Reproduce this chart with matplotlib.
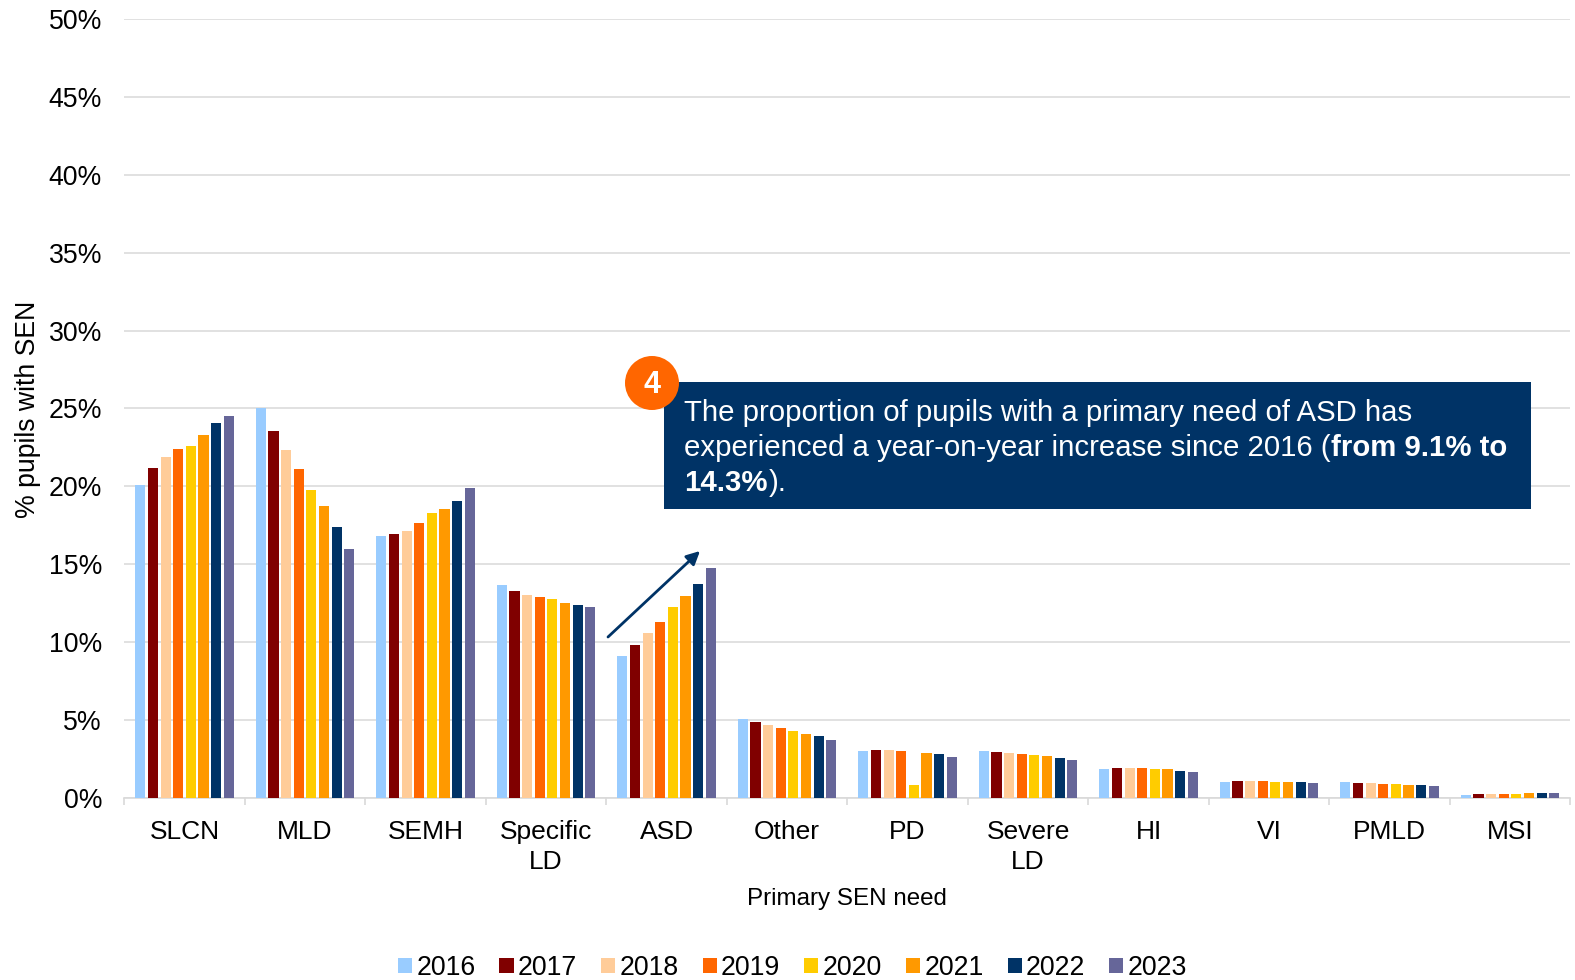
import matplotlib
matplotlib.use("Agg")
import matplotlib.pyplot as plt
from matplotlib.patches import Rectangle, Circle, FancyArrowPatch
from matplotlib.transforms import Affine2D
import numpy as np

plt.rcParams['font.family'] = ['Liberation Sans', 'DejaVu Sans']

categories = ["SLCN", "MLD", "SEMH", "Specific\nLD", "ASD", "Other", "PD", "Severe\nLD", "HI", "VI", "PMLD", "MSI"]
years = ["2016", "2017", "2018", "2019", "2020", "2021", "2022", "2023"]
colors = ["#99CCFF", "#800000", "#FFCC99", "#FF6600", "#FFCC00", "#FF9900", "#003366", "#666699"]
v2016 = [20.1, 25.0, 16.8, 13.7, 9.1, 5.07, 3.0, 3.0, 1.88, 1.0, 1.0, 0.17]
v2017 = [21.2, 23.54, 16.93, 13.29, 9.8, 4.9, 3.05, 2.95, 1.92, 1.06, 0.98, 0.23]
v2018 = [21.87, 22.35, 17.14, 13.06, 10.6, 4.69, 3.07, 2.9, 1.92, 1.08, 0.96, 0.25]
v2019 = [22.38, 21.13, 17.64, 12.93, 11.3, 4.47, 3.03, 2.82, 1.92, 1.08, 0.92, 0.27]
v2020 = [22.62, 19.76, 18.3, 12.78, 12.26, 4.28, 0.86, 2.76, 1.88, 1.05, 0.88, 0.27]
v2021 = [23.3, 18.75, 18.56, 12.52, 12.95, 4.13, 2.9, 2.72, 1.86, 1.05, 0.86, 0.3]
v2022 = [24.04, 17.42, 19.07, 12.37, 13.76, 3.98, 2.8, 2.58, 1.74, 1.03, 0.81, 0.32]
v2023 = [24.54, 15.99, 19.88, 12.24, 14.79, 3.72, 2.64, 2.41, 1.67, 0.98, 0.77, 0.32]
series = [v2016, v2017, v2018, v2019, v2020, v2021, v2022, v2023]
yticks = [0, 5, 10, 15, 20, 25, 30, 35, 40, 45, 50]

W, H = 1575, 980
fig = plt.figure(figsize=(W / 100, H / 100), dpi=100, facecolor="white")
L, R, T, B = 124.3, 1570.3, 19, 798
ax = fig.add_axes([L / W, 1 - B / H, (R - L) / W, (B - T) / H])
px = Affine2D().scale(1 / W, -1 / H).translate(0, 1) + fig.transFigure

x = np.arange(len(categories))
step, width = 0.1048, 0.084
for i, (vals, c, y) in enumerate(zip(series, colors, years)):
    ax.bar(x + (i - 3.5) * step, vals, width=width, color=c, label=y, zorder=3)

ax.set_xlim(-0.5, 11.5)
ax.set_ylim(0, 50)
ax.set_yticks(yticks)
ax.set_yticklabels([f"{t}%" for t in yticks], fontsize=19.2, color="black")
ax.set_xticks(np.arange(-0.5, 12, 1))
ax.set_xticklabels([])
ax.set_xticks(x, minor=True)
ax.set_xticklabels(categories, minor=True, fontsize=19, color="black", linespacing=1.33)
ax.tick_params(axis="y", length=0, pad=16)
ax.tick_params(axis="x", which="major", length=5, width=1.2, color="#D9D9D9")
ax.tick_params(axis="x", which="minor", length=0, pad=15.5)
ax.grid(axis="y", color="#D9D9D9", lw=1.1, zorder=0)
ax.set_axisbelow(True)
for s in ["top", "right", "left"]:
    ax.spines[s].set_visible(False)
ax.spines["bottom"].set_color("#D9D9D9")
ax.spines["bottom"].set_linewidth(1.2)

fig.text(847 / W, 1 - 899.5 / H, "Primary SEN need", fontsize=17.4, ha="center", va="center")
fig.text(28 / W, 1 - 409 / H, "% pupils with SEN", fontsize=19.2, ha="center", va="center", rotation=90)

h, l = ax.get_legend_handles_labels()
fig.legend(h, l, ncol=8, loc="center", bbox_to_anchor=(792.5 / W, 1 - 968 / H), frameon=False, fontsize=19.2,
           handlelength=0.53, handleheight=0.53, handletextpad=0.16, columnspacing=0.9, borderpad=0, labelspacing=0)

# callout
fig.add_artist(Rectangle((664, 382), 867, 127, transform=px, facecolor="#003366", edgecolor="none", zorder=5))
fig.add_artist(Circle((652, 383), 27, transform=px, facecolor="#FF6600", edgecolor="none", zorder=6))
fig.text(652 / W, 1 - 385 / H, "4", fontsize=22, fontweight="bold", color="white", ha="center", va="center", zorder=7)
fs = 21.15
kw = dict(fontsize=fs, color="white", va="baseline", zorder=7)
fig.text(684 / W, 1 - 421 / H, "The proportion of pupils with a primary need of ASD has", **kw)
t = fig.text(684 / W, 1 - 456 / H, "experienced a year-on-year increase since 2016 (", **kw)
fig.canvas.draw()
bb = t.get_window_extent()
fig.text((bb.x1 + 0.5) / W, 1 - 456 / H, "from 9.1% to", fontweight="bold", **kw)
t2 = fig.text(684 / W, 1 - 491 / H, "14.3%", fontweight="bold", **kw)
bb2 = t2.get_window_extent()
fig.text((bb2.x1 + 1) / W, 1 - 491 / H, ").", **kw)

fig.add_artist(FancyArrowPatch((608, 637), (700, 551), transform=px, arrowstyle="-|>", mutation_scale=20,
                               color="#003366", lw=2, shrinkA=0, shrinkB=0, zorder=6))

fig.savefig("out.png", dpi=100)
